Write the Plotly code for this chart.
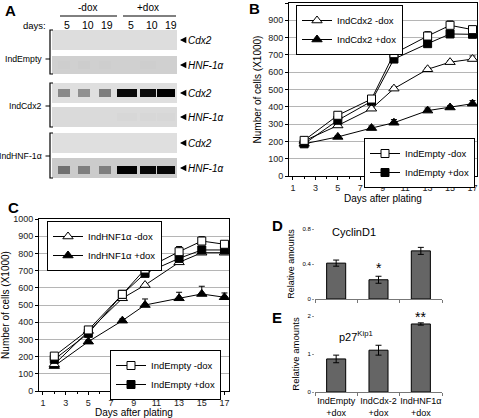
import numpy as np
import plotly.graph_objects as go

W, H = 479, 418
FONT = "Liberation Sans, Arial, sans-serif"

def fx(p):
    return p / W

def fy(p):
    return 1 - p / H

# ---------------- Data ----------------
# Panel A (western blot): band intensities 0..1 per lane
blot_days = ['5', '10', '19', '5', '10', '19']
blot_cell_lines = ['IndEmpty', 'IndCdx2', 'IndHNF-1α']
blot_probes = ['Cdx2', 'HNF-1α', 'Cdx2', 'HNF-1α', 'Cdx2', 'HNF-1α']
strip_bg = [0.04, 0.13, 0.03, 0.06, 0.03, 0.16]
band_IndEmpty_Cdx2 = [0, 0, 0, 0, 0, 0]
band_IndEmpty_HNF = [0.14, 0.15, 0.14, 0.13, 0.14, 0.13]
band_IndCdx2_Cdx2 = [0.45, 0.42, 0.5, 0.95, 0.93, 1.0]
band_IndCdx2_HNF = [0.06, 0.06, 0.06, 0.08, 0.08, 0.08]
band_IndHNF_Cdx2 = [0.03, 0.03, 0.03, 0.03, 0.03, 0.03]
band_IndHNF_HNF = [0.55, 0.5, 0.5, 1.0, 0.96, 0.96]

# Panels B and C: growth curves
days = [2, 5, 8, 10, 13, 15, 17]
B_empty_minus = [206, 351, 445, 707, 809, 871, 846]
B_empty_minus_err = [10, 8, 8, 8, 25, 25, 12]
B_empty_plus = [186, 322, 432, 676, 765, 821, 819]
B_empty_plus_err = [5, 6, 5, 6, 8, 8, 5]
B_cdx2_minus = [203, 292, 389, 505, 617, 658, 676]
B_cdx2_minus_err = [6, 8, 8, 10, 8, 8, 18]
B_cdx2_plus = [186, 226, 277, 308, 378, 396, 418]
B_cdx2_plus_err = [5, 8, 12, 18, 15, 10, 18]

C_empty_minus = [203, 355, 562, 709, 810, 872, 853]
C_empty_minus_err = [12, 8, 8, 10, 30, 25, 12]
C_empty_plus = [184, 335, 562, 684, 771, 820, 820]
C_empty_plus_err = [6, 6, 6, 6, 8, 8, 5]
C_hnf_minus = [155, 349, 539, 616, 748, 804, 804]
C_hnf_minus_err = [6, 8, 8, 8, 8, 8, 8]
C_hnf_plus = [145, 287, 409, 500, 539, 564, 545]
C_hnf_plus_err = [6, 8, 10, 35, 35, 45, 25]

# Panels D and E: relative amounts
groups = ['IndEmpty +dox', 'IndCdx-2 +dox', 'IndHNF1α +dox']
group_labels = ['IndEmpty<br>+dox', 'IndCdx-2<br>+dox', 'IndHNF1α<br>+dox']
cyclinD1 = [0.41, 0.22, 0.55]
cyclinD1_err = [0.035, 0.04, 0.04]
p27 = [0.87, 1.1, 1.79]
p27_err = [0.1, 0.13, 0.03]

fig = go.Figure()

# ---------------- Panel A: blot as heatmap (pixel coordinates) ----------------
band_centers = [64, 84, 105, 127, 148, 166]
band_half = [6, 6, 6, 10, 8, 9]
xedges = [52]
for c, w in zip(band_centers, band_half):
    xedges += [c - w, c + w]
xedges.append(177)
strips = [(30, 50), (56, 74), (83, 103), (107, 127), (133, 153), (158, 178)]
band_rows = [band_IndEmpty_Cdx2, band_IndEmpty_HNF, band_IndCdx2_Cdx2,
             band_IndCdx2_HNF, band_IndHNF_Cdx2, band_IndHNF_HNF]
yedges = []
zrows = []
ncols = len(xedges) - 1
for i, ((t, b), bands, bg) in enumerate(zip(strips, band_rows, strip_bg)):
    mid = (t + b) / 2 + (2 if i == 5 else 0)
    yedges += [t, mid - 4, mid + 4]
    pad = [bg] * ncols
    brow = [max(bg, bands[k // 2]) if k % 2 == 1 else bg for k in range(ncols)]
    zrows += [pad, brow, pad]
    yedges.append(b)
    if i < len(strips) - 1:
        zrows.append([None] * ncols)

fig.add_trace(go.Heatmap(
    x=xedges, y=yedges, z=zrows, zmin=0, zmax=1,
    colorscale=[[0, '#e3e3e3'], [0.15, '#cdcdcd'], [0.5, '#7e7e7e'], [0.85, '#1a1a1a'], [1, '#000000']],
    showscale=False, hoverinfo='skip', xaxis='x5', yaxis='y5'))

annotations = []
shapes = []
tf = dict(family=FONT, size=10, color='black')
annotations.append(dict(x=87, y=7, xref='x5', yref='y5', text='-dox', showarrow=False, font=tf))
annotations.append(dict(x=148, y=7, xref='x5', yref='y5', text='+dox', showarrow=False, font=tf))
shapes.append(dict(type='line', x0=60, x1=117, y0=16, y1=16, xref='x5', yref='y5', line=dict(color='black', width=1)))
shapes.append(dict(type='line', x0=123, x1=176, y0=16, y1=16, xref='x5', yref='y5', line=dict(color='black', width=1)))
annotations.append(dict(x=34, y=25, xref='x5', yref='y5', text='days:', showarrow=False, font=dict(family=FONT, size=9.5)))
label_x = [67, 88, 107, 131, 152, 171]
for lx, d in zip(label_x, blot_days):
    annotations.append(dict(x=lx, y=25, xref='x5', yref='y5', text=d, showarrow=False, font=dict(family=FONT, size=10.5)))

brackets = [(30, 74, 59), (83, 127, 106), (133, 178, 156)]
for (t, b, m), name in zip(brackets, blot_cell_lines):
    shapes.append(dict(type='path', path=f'M 53,{t} L 50,{t} L 50,{b} L 53,{b}', xref='x5', yref='y5',
                       line=dict(color='black', width=1.2)))
    shapes.append(dict(type='line', x0=45.5, x1=50, y0=m, y1=m, xref='x5', yref='y5', line=dict(color='black', width=1)))
    annotations.append(dict(x=44, y=m, xref='x5', yref='y5', text=name, showarrow=False, xanchor='right',
                            font=dict(family=FONT, size=8.7)))

for (t, b), probe in zip(strips, blot_probes):
    m = (t + b) / 2
    annotations.append(dict(x=180, y=m, xref='x5', yref='y5', text='<i>' + probe + '</i>', showarrow=True,
                            ax=6, ay=0, axref='pixel', ayref='pixel', xanchor='left', yanchor='middle',
                            arrowhead=2, arrowsize=0.9, arrowwidth=1.4, arrowcolor='black', standoff=0,
                            font=dict(family=FONT, size=10)))

# ---------------- Panels B and C ----------------
def series(x, y, err, name, symbol, filled, xa, ya, leg, size):
    return go.Scatter(
        x=x, y=y, mode='lines+markers', name=name,
        line=dict(color='black', width=1),
        marker=dict(symbol=symbol, size=size, color='black' if filled else 'white',
                    line=dict(color='black', width=1)),
        error_y=dict(type='data', array=err, arrayminus=[0] * len(err), symmetric=False,
                     color='black', thickness=1, width=3),
        xaxis=xa, yaxis=ya, legend=leg, hoverinfo='skip')

fig.add_trace(series(days, B_cdx2_plus, B_cdx2_plus_err, 'IndCdx2 +dox', 'triangle-up', True, 'x', 'y', 'legend', 9))
fig.add_trace(series(days, B_cdx2_minus, B_cdx2_minus_err, 'IndCdx2 -dox', 'triangle-up', False, 'x', 'y', 'legend', 9))
fig.add_trace(series(days, B_empty_plus, B_empty_plus_err, 'IndEmpty +dox', 'square', True, 'x', 'y', 'legend2', 8))
fig.add_trace(series(days, B_empty_minus, B_empty_minus_err, 'IndEmpty -dox', 'square', False, 'x', 'y', 'legend2', 8))

fig.add_trace(series(days, C_hnf_plus, C_hnf_plus_err, 'IndHNF1α +dox', 'triangle-up', True, 'x2', 'y2', 'legend3', 9))
fig.add_trace(series(days, C_hnf_minus, C_hnf_minus_err, 'IndHNF1α -dox', 'triangle-up', False, 'x2', 'y2', 'legend3', 9))
fig.add_trace(series(days, C_empty_plus, C_empty_plus_err, 'IndEmpty +dox', 'square', True, 'x2', 'y2', 'legend4', 8))
fig.add_trace(series(days, C_empty_minus, C_empty_minus_err, 'IndEmpty -dox', 'square', False, 'x2', 'y2', 'legend4', 8))

# ---------------- Panels D and E ----------------
fig.add_trace(go.Bar(x=groups, y=cyclinD1, width=0.45, marker=dict(color='#656565', line=dict(color='black', width=1)),
                     error_y=dict(type='data', array=cyclinD1_err, color='black', thickness=1, width=3),
                     xaxis='x3', yaxis='y3', showlegend=False, hoverinfo='skip'))
fig.add_trace(go.Bar(x=groups, y=p27, width=0.45, marker=dict(color='#656565', line=dict(color='black', width=1)),
                     error_y=dict(type='data', array=p27_err, color='black', thickness=1, width=3),
                     xaxis='x4', yaxis='y4', showlegend=False, hoverinfo='skip'))

annotations.append(dict(x=fx(354), y=fy(232), xref='paper', yref='paper', text='CyclinD1', showarrow=False,
                        xanchor='center', yanchor='middle', font=dict(family=FONT, size=11)))
annotations.append(dict(x=fx(356), y=fy(336), xref='paper', yref='paper', text='p27<sup>Kip1</sup>', showarrow=False,
                        xanchor='center', yanchor='middle', font=dict(family=FONT, size=11)))
annotations.append(dict(x=groups[1], y=cyclinD1[1] + cyclinD1_err[1], xref='x3', yref='y3', text='*', showarrow=False,
                        yanchor='bottom', yshift=-2, font=dict(family=FONT, size=14)))
annotations.append(dict(x=groups[2], y=p27[2] + p27_err[2], xref='x4', yref='y4', text='**', showarrow=False,
                        yanchor='bottom', yshift=-4, font=dict(family=FONT, size=14)))

# panel letters
for L, (px, py) in zip('ABCDE', [(10, 10), (254, 9), (13, 207), (277, 225), (277, 317)]):
    annotations.append(dict(x=fx(px), y=fy(py), xref='paper', yref='paper', text='<b>' + L + '</b>', showarrow=False,
                            xanchor='center', yanchor='middle',
                            font=dict(family=FONT, size=15, color='black')))

tick_font = dict(family=FONT, size=9, color='#222222')

def line_x(domain, anchor):
    return dict(domain=domain, anchor=anchor, range=[0.65, 17.4], tickmode='array', automargin=False,
                tickvals=[1, 3, 5, 7, 9, 11, 13, 15, 17], ticks='outside', ticklen=3, tickcolor='black',
                minor=dict(ticks='outside', ticklen=2, dtick=1, tick0=0, tickcolor='black'),
                showline=True, linecolor='black', linewidth=1, mirror=True, showgrid=False, zeroline=False,
                tickfont=tick_font, title=dict(text='Days after plating', font=dict(family=FONT, size=10), standoff=1))

def line_y(domain, anchor):
    return dict(domain=domain, anchor=anchor, range=[0, 1000], dtick=100, ticks='outside', ticklen=3,
                automargin=False,
                tickcolor='black', showline=True, linecolor='black', linewidth=1, mirror=True,
                showgrid=True, gridcolor='#b5b5b5', gridwidth=1, zeroline=False, tickfont=tick_font,
                title=dict(text='Number of cells (X1000)', font=dict(family=FONT, size=10), standoff=4))

legend_common = dict(bgcolor='white', bordercolor='black', borderwidth=1, font=dict(family=FONT, size=9.5),
                     yanchor='top', itemwidth=30, tracegroupgap=0, traceorder='reversed')

fig.update_layout(
    template='none',
    width=W, height=H, margin=dict(l=0, r=0, t=0, b=0, autoexpand=False),
    paper_bgcolor='white', plot_bgcolor='white',
    font=dict(family=FONT, color='black'),
    xaxis=line_x([fx(289), fx(477)], 'y'),
    yaxis=line_y([fy(176), fy(3)], 'x'),
    xaxis2=line_x([fx(39), fx(229)], 'y2'),
    yaxis2=line_y([fy(391), fy(219)], 'x2'),
    xaxis3=dict(domain=[fx(315), fx(442)], anchor='y3', showticklabels=False, ticks='outside', ticklen=3,
                automargin=False, showgrid=False,
                tickson='boundaries', showline=True, linecolor='#777777', tickcolor='#777777'),
    yaxis3=dict(domain=[fy(299), fy(229)], anchor='x3', range=[0, 0.8], tickvals=[0, 0.4, 0.8],
                automargin=False,
                ticktext=['0', '0.4', '0.8'], ticks='outside', ticklen=2, tickcolor='#999999', showgrid=False,
                zeroline=False, showline=False, tickfont=dict(family=FONT, size=6),
                title=dict(text='Relative amounts', font=dict(family=FONT, size=9), standoff=6)),
    xaxis4=dict(domain=[fx(315), fx(442)], anchor='y4', tickmode='array', tickvals=groups, ticktext=group_labels,
                automargin=False, tickangle=0, showgrid=False,
                ticks='outside', ticklen=3, tickson='boundaries', showline=True, linecolor='#777777',
                tickcolor='#777777', tickfont=dict(family=FONT, size=9)),
    yaxis4=dict(domain=[fy(392), fy(316)], anchor='x4', range=[0, 2], tickvals=[0, 1, 2], ticks='outside',
                automargin=False,
                ticklen=2, tickcolor='#999999', showgrid=False, zeroline=False, showline=False,
                tickfont=dict(family=FONT, size=6),
                title=dict(text='Relative amounts', font=dict(family=FONT, size=9.5), standoff=6)),
    xaxis5=dict(domain=[0, fx(240)], range=[0, 240], visible=False, anchor='y5', automargin=False),
    yaxis5=dict(domain=[fy(200), 1], range=[200, 0], visible=False, anchor='x5', automargin=False),
    legend=dict(x=fx(296), y=fy(5), xanchor='left', **legend_common),
    legend2=dict(x=fx(475), y=fy(138), xanchor='right', **legend_common),
    legend3=dict(x=fx(47), y=fy(221), xanchor='left', **legend_common),
    legend4=dict(x=fx(221), y=fy(350), xanchor='right', **legend_common),
    annotations=annotations, shapes=shapes, bargap=0.55,
)

fig.write_html(
    "out.html",
    config={'displayModeBar': False, 'staticPlot': True},
    post_script="document.body.style.margin='0px';document.body.style.padding='0px';"
                "document.documentElement.style.overflow='hidden';",
)
